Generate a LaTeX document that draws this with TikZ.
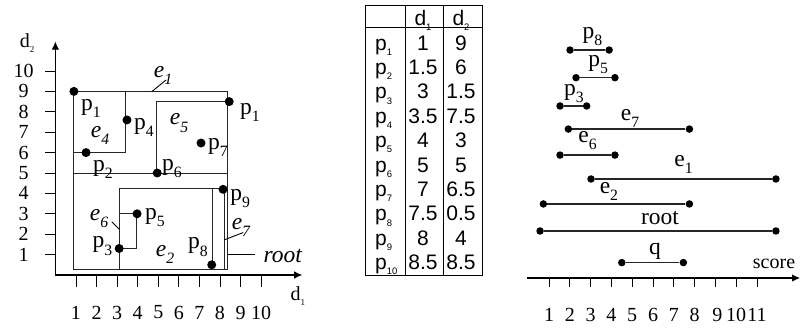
\documentclass[tikz,border=0pt]{standalone}
\usepackage{fontspec}
\setmainfont{Liberation Serif}
\newfontfamily\tabfont{Liberation Sans}
\usetikzlibrary{arrows.meta}

\newcommand{\sbs}[1]{\raisebox{-0.3em}{\scalebox{0.67}{#1}}}
\newcommand{\tsbs}[1]{\raisebox{-0.25em}{\scalebox{0.45}{#1}}}

\begin{document}
\begin{tikzpicture}[
    x=1pt, y=1pt,
    box/.style={draw=black!85, line width=1pt},
    dot/.style={circle, fill=black, inner sep=0pt, minimum size=9pt},
    sdot/.style={circle, fill=black, inner sep=0pt, minimum size=7.5pt},
    lbl/.style={inner sep=0pt, font=\fontsize{23.5}{23.5}\selectfont},
    num/.style={inner sep=0pt, font=\fontsize{20}{20}\selectfont},
    axisarr/.style={-{Latex[length=8pt, width=7.5pt]}, line width=1.1pt},
    ticks/.style={line width=0.9pt},
    leader/.style={line width=0.9pt},
    cell/.style={inner sep=0pt, anchor=base, font=\tabfont\fontsize{21}{21}\selectfont},
    ival/.style={line width=1.2pt, black!85},
]
\useasboundingbox (0,0) rectangle (804,333);

% ========== LEFT: MBRs in (d1, d2) ==========
\begin{scope}[shift={(55.4pt,58pt)}, x=20.57pt, y=20.4pt]
% axes
\coordinate (o) at (0,0);
\coordinate (xtip) at (12,0);
\coordinate (ytip) at (0,11.44);
\draw[axisarr] (o) -- (xtip);
\draw[axisarr] (o) -- (ytip);
\node[num] (ax1) at (11.79,-1.03) {d\tsbs{1}};
\node[num] (ax2) at (-1.38,11.37) {d\tsbs{2}};

% ticks
\draw[ticks] (1,0) -- (1,-0.6) (2,0) -- (2,-0.6) (3,0) -- (3,-0.6) (4,0) -- (4,-0.6) (5,0) -- (5,-0.6)
    (6,0) -- (6,-0.6) (7,0) -- (7,-0.6) (8,0) -- (8,-0.6) (9,0) -- (9,-0.6) (10,0) -- (10,-0.6);
\draw[ticks] (-0.5,1) -- (0,1) (-0.5,2) -- (0,2) (-0.5,3) -- (0,3) (-0.5,4) -- (0,4) (-0.5,5) -- (0,5)
    (-0.5,6) -- (0,6) (-0.5,7) -- (0,7) (-0.5,8) -- (0,8) (-0.5,9) -- (0,9) (-0.5,10) -- (0,10);

\node[num] (xl1) at (1,-1.84) {1};
\node[num] (xl2) at (2,-1.84) {2};
\node[num] (xl3) at (3,-1.84) {3};
\node[num] (xl4) at (4,-1.84) {4};
\node[num] (xl5) at (5,-1.84) {5};
\node[num] (xl6) at (6,-1.84) {6};
\node[num] (xl7) at (7,-1.84) {7};
\node[num] (xl8) at (8,-1.84) {8};
\node[num] (xl9) at (9,-1.84) {9};
\node[num] (xl10) at (10,-1.84) {10};

\node[num] (yl1) at (-1.55,1) {1};
\node[num] (yl2) at (-1.55,2) {2};
\node[num] (yl3) at (-1.55,3) {3};
\node[num] (yl4) at (-1.55,4) {4};
\node[num] (yl5) at (-1.55,5) {5};
\node[num] (yl6) at (-1.55,6) {6};
\node[num] (yl7) at (-1.55,7) {7};
\node[num] (yl8) at (-1.55,8) {8};
\node[num] (yl9) at (-1.55,9) {9};
\node[num] (yl10) at (-1.55,10) {10};

% rectangles
\draw[box] (0.9,0.25) rectangle (8.38,9);   % root
\draw[box] (0.9,5) -- (8.38,5);              % e1
\draw[box] (0.9,6) -| (3.4,9);               % e4
\draw[box] (8.38,8.5) -| (4.9,5);            % e5
\draw[box] (3.1,0.25) |- (8.2,4.25) -- (8.2,0.25); % e2
\draw[box] (7.65,4.25) -- (7.65,0.25);      % e7
\draw[box] (3.1,3) -| (3.95,1.3) -- (3.1,1.3); % e6

% points
\node[dot] (p1) at (0.9,9) {};
\node[dot] (p2) at (1.49,6) {};
\node[dot] (p3) at (3.1,1.3) {};
\node[dot] (p4) at (3.48,7.6) {};
\node[dot] (p5) at (3.97,3) {};
\node[dot] (p6) at (4.95,5) {};
\node[dot] (p7) at (7.08,6.47) {};
\node[dot] (p8) at (7.6,0.5) {};
\node[dot] (p9) at (8.15,4.2) {};
\node[dot] (p10) at (8.45,8.5) {};

% point labels
\node[lbl] (lp1) at (1.73,8.18) {p\sbs{1}};
\node[lbl] (lp2) at (2.31,5.17) {p\sbs{2}};
\node[lbl] (lp3) at (2.29,1.42) {p\sbs{3}};
\node[lbl] (lp4) at (4.31,7.25) {p\sbs{4}};
\node[lbl] (lp5) at (4.84,2.84) {p\sbs{5}};
\node[lbl] (lp6) at (5.67,5.2) {p\sbs{6}};
\node[lbl] (lp7) at (7.9,6.27) {p\sbs{7}};
\node[lbl] (lp8) at (6.93,1.37) {p\sbs{8}};
\node[lbl] (lp9) at (8.98,3.73) {p\sbs{9}};
\node[lbl] (lp10) at (9.46,7.99) {p\sbs{1}};

% entry labels
\node[lbl] (le1) at (5.23,9.8) {\textit{e\sbs{1}}};
\node[lbl] (le2) at (5.33,1.03) {\textit{e\sbs{2}}};
\node[lbl] (le4) at (2.17,6.84) {\textit{e\sbs{4}}};
\node[lbl] (le5) at (6.01,7.45) {\textit{e\sbs{5}}};
\node[lbl] (le6) at (2.12,2.79) {\textit{e\sbs{6}}};
\node[lbl] (le7) at (9.02,2.35) {\textit{e\sbs{7}}};
\node[lbl] (lroot) at (11.07,0.91) {\textit{root}};

% leaders
\coordinate (e1a) at (4.7,9);
\coordinate (e1b) at (5.38,9.56);
\coordinate (e6a) at (3.11,2.24);
\coordinate (e6b) at (2.74,2.61);
\coordinate (e7a) at (8.2,1.72);
\coordinate (e7b) at (9.13,2.08);
\coordinate (rta) at (8.38,1.01);
\coordinate (rtb) at (9.7,1.01);
\draw[leader] (e1a) -- (e1b);
\draw[leader] (e6a) -- (e6b);
\draw[leader] (e7a) -- (e7b);
\draw[leader] (rta) -- (rtb);
\end{scope}

% ========== TABLE ==========
\draw[line width=1pt] (365,58) rectangle (482.7,327);
\draw[line width=1pt] (365,306) -- (482.7,306);
\draw[line width=1pt] (405.7,58) -- (405.7,327);
\draw[line width=1pt] (443,58) -- (443,327);

\node[cell] (h1) at (423,308) {d\tsbs{1}};
\node[cell] (h2) at (461,308) {d\tsbs{2}};

\node[cell, anchor=base west] (r1) at (375,283) {p\tsbs{1}};
\node[cell] (r1a) at (423,283) {1};
\node[cell] (r1b) at (461,283) {9};
\node[cell, anchor=base west] (r2) at (375,258.6) {p\tsbs{2}};
\node[cell] (r2a) at (423,258.6) {1.5};
\node[cell] (r2b) at (461,258.6) {6};
\node[cell, anchor=base west] (r3) at (375,234.2) {p\tsbs{3}};
\node[cell] (r3a) at (423,234.2) {3};
\node[cell] (r3b) at (461,234.2) {1.5};
\node[cell, anchor=base west] (r4) at (375,209.8) {p\tsbs{4}};
\node[cell] (r4a) at (423,209.8) {3.5};
\node[cell] (r4b) at (461,209.8) {7.5};
\node[cell, anchor=base west] (r5) at (375,185.4) {p\tsbs{5}};
\node[cell] (r5a) at (423,185.4) {4};
\node[cell] (r5b) at (461,185.4) {3};
\node[cell, anchor=base west] (r6) at (375,161) {p\tsbs{6}};
\node[cell] (r6a) at (423,161) {5};
\node[cell] (r6b) at (461,161) {5};
\node[cell, anchor=base west] (r7) at (375,136.6) {p\tsbs{7}};
\node[cell] (r7a) at (423,136.6) {7};
\node[cell] (r7b) at (461,136.6) {6.5};
\node[cell, anchor=base west] (r8) at (375,112.2) {p\tsbs{8}};
\node[cell] (r8a) at (423,112.2) {7.5};
\node[cell] (r8b) at (461,112.2) {0.5};
\node[cell, anchor=base west] (r9) at (375,87.8) {p\tsbs{9}};
\node[cell] (r9a) at (423,87.8) {8};
\node[cell] (r9b) at (461,87.8) {4};
\node[cell, anchor=base west] (r10) at (375,63.4) {p\tsbs{10}};
\node[cell] (r10a) at (423,63.4) {8.5};
\node[cell] (r10b) at (461,63.4) {8.5};

% ========== RIGHT: score intervals ==========
\begin{scope}[shift={(528.2pt,55pt)}, x=20.8pt, y=20.8pt]
\coordinate (so) at (-0.07,0);
\coordinate (stip) at (13.07,0);
\draw[axisarr] (so) -- (stip);
\node[num] (score) at (11.82,0.67) {score};

\draw[ticks] (1,0) -- (1,-0.43) (2,0) -- (2,-0.43) (3,0) -- (3,-0.43) (4,0) -- (4,-0.43)
    (5,0) -- (5,-0.43) (6,0) -- (6,-0.43) (7,0) -- (7,-0.43) (8,0) -- (8,-0.43)
    (9,0) -- (9,-0.43) (10,0) -- (10,-0.43) (11,0) -- (11,-0.43);

\node[num] (sl1) at (1,-1.78) {1};
\node[num] (sl2) at (2,-1.78) {2};
\node[num] (sl3) at (3,-1.78) {3};
\node[num] (sl4) at (4,-1.78) {4};
\node[num] (sl5) at (5,-1.78) {5};
\node[num] (sl6) at (6,-1.78) {6};
\node[num] (sl7) at (7,-1.78) {7};
\node[num] (sl8) at (8,-1.78) {8};
\node[num] (sl9) at (9.1,-1.78) {9};
\node[num] (sl10) at (10,-1.78) {10};
\node[num] (sl11) at (11,-1.78) {11};

% interval end points
\node[sdot] (p8lo) at (2.01,10.96) {};
\node[sdot] (p8hi) at (3.89,10.96) {};
\node[sdot] (p5lo) at (2.3,9.63) {};
\node[sdot] (p5hi) at (4.17,9.63) {};
\node[sdot] (p3lo) at (1.53,8.27) {};
\node[sdot] (p3hi) at (2.81,8.27) {};
\node[sdot] (e7lo) at (1.93,7.16) {};
\node[sdot] (e7hi) at (7.75,7.16) {};
\node[sdot] (e6lo) at (1.53,5.91) {};
\node[sdot] (e6hi) at (4.17,5.91) {};
\node[sdot] (e1lo) at (3.02,4.76) {};
\node[sdot] (e1hi) at (11.91,4.76) {};
\node[sdot] (e2lo) at (0.73,3.56) {};
\node[sdot] (e2hi) at (7.75,3.56) {};
\node[sdot] (rtlo) at (0.57,2.26) {};
\node[sdot] (rthi) at (11.91,2.26) {};
\node[sdot] (qlo) at (4.5,0.74) {};
\node[sdot] (qhi) at (7.46,0.74) {};

\draw[ival] (p8lo) -- (p8hi);
\draw[ival] (p5lo) -- (p5hi);
\draw[ival] (p3lo) -- (p3hi);
\draw[ival] (e7lo) -- (e7hi);
\draw[ival] (e6lo) -- (e6hi);
\draw[ival] (e1lo) -- (e1hi);
\draw[ival] (e2lo) -- (e2hi);
\draw[ival] (rtlo) -- (rthi);
\draw[ival] (qlo) -- (qhi);

% interval labels
\node[lbl] (sp8) at (3.09,11.6) {p\sbs{8}};
\node[lbl] (sp5) at (3.36,10.24) {p\sbs{5}};
\node[lbl] (sp3) at (2.2,8.85) {p\sbs{3}};
\node[lbl] (se7) at (4.9,7.69) {e\sbs{7}};
\node[lbl] (se6) at (2.85,6.63) {e\sbs{6}};
\node[lbl] (se1) at (7.47,5.48) {e\sbs{1}};
\node[lbl] (se2) at (3.88,4.15) {e\sbs{2}};
\node[lbl] (sroot) at (6.34,2.88) {root};
\node[lbl] (sq) at (6.1,1.3) {q};
\end{scope}

\end{tikzpicture}
\end{document}
